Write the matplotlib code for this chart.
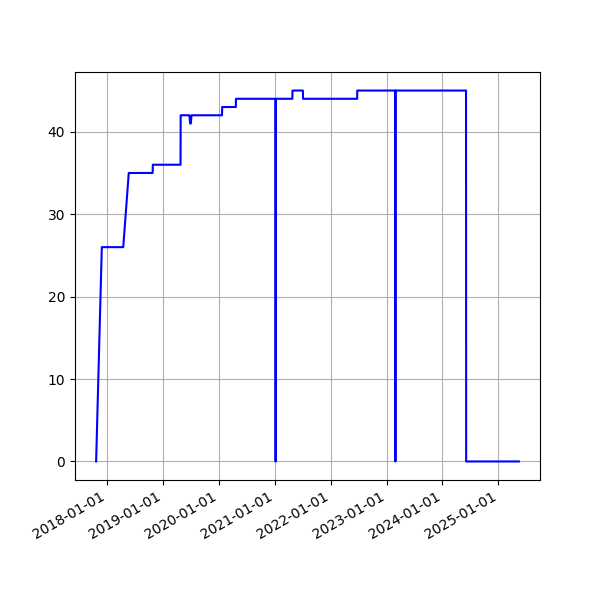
import pandas as pd
import matplotlib
matplotlib.use("Agg")
import matplotlib.pyplot as plt
import matplotlib.dates as mdates

dates = [
    "2017-10-23", "2017-11-29", "2018-04-18", "2018-05-24", "2018-10-27",
    "2018-10-28", "2019-04-27", "2019-04-28", "2019-06-24", "2019-06-29",
    "2019-07-03", "2019-07-08", "2020-01-23", "2020-01-24", "2020-04-22",
    "2020-04-23", "2021-01-06", "2021-01-07", "2021-01-08", "2021-04-26",
    "2021-04-27", "2021-07-04", "2021-07-05", "2022-06-23", "2022-06-24",
    "2023-02-27", "2023-02-28", "2023-03-01", "2024-06-03", "2024-06-04",
    "2025-05-14",
]
values = [
    0, 26, 26, 35, 35,
    36, 36, 42, 42, 41,
    41, 42, 42, 43, 43,
    44, 44, 0, 44, 44,
    45, 45, 44, 44, 45,
    45, 0, 45, 45, 0,
    0,
]

x = pd.to_datetime(dates)

fig, ax = plt.subplots(figsize=(6, 6), dpi=100)
ax.plot(x, values, color="blue")
ax.xaxis.set_major_locator(mdates.YearLocator())
ax.xaxis.set_major_formatter(mdates.DateFormatter("%Y-%m-%d"))
ax.grid(True)
fig.autofmt_xdate()
fig.savefig("out.png")
